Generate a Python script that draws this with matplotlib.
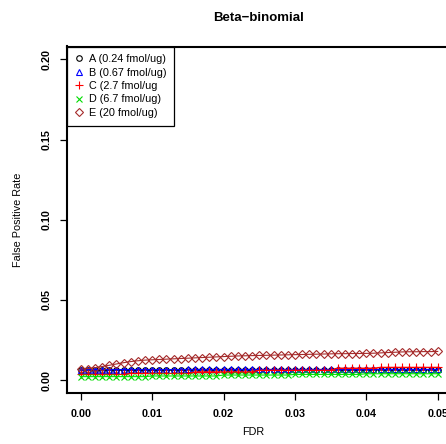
import numpy as np
import matplotlib
matplotlib.use("Agg")
import matplotlib.pyplot as plt
from matplotlib.lines import Line2D

plt.rcParams['font.family'] = ['Liberation Sans', 'DejaVu Sans']

# FDR grid
fdr = np.round(np.arange(51) * 0.001, 3)

# false positive rates
fpr_A = [0.0062, 0.0062, 0.0062, 0.0062, 0.0062, 0.0062, 0.0062, 0.0062, 0.0062, 0.0062,
         0.0062, 0.0062, 0.0062, 0.0062, 0.0062, 0.0063, 0.0063, 0.0063, 0.0063, 0.0063,
         0.0063, 0.0063, 0.0063, 0.0063, 0.0063, 0.0063, 0.0063, 0.0063, 0.0063, 0.0063,
         0.0063, 0.0063, 0.0063, 0.0063, 0.0063, 0.0063, 0.0063, 0.0063, 0.0063, 0.0063,
         0.0063, 0.0063, 0.0063, 0.0063, 0.0063, 0.0063, 0.0063, 0.0063, 0.0063, 0.0063, 0.0063]
fpr_B = [0.0066, 0.0066, 0.0066, 0.0066, 0.0066, 0.0066, 0.0066, 0.0066, 0.0066, 0.0066,
         0.0066, 0.0066, 0.0066, 0.0066, 0.0066, 0.0067, 0.0067, 0.0067, 0.0067, 0.0067,
         0.0067, 0.0067, 0.0067, 0.0067, 0.0067, 0.0067, 0.0067, 0.0067, 0.0067, 0.0067,
         0.0067, 0.0067, 0.0067, 0.0067, 0.0067, 0.0067, 0.0067, 0.0067, 0.0067, 0.0067,
         0.0067, 0.0067, 0.0067, 0.0067, 0.0067, 0.0067, 0.0067, 0.0067, 0.0067, 0.0067, 0.0067]
fpr_C = [0.0036, 0.0036, 0.0036, 0.0036, 0.0036, 0.0036, 0.0036, 0.0042, 0.0042, 0.0042,
         0.0042, 0.0042, 0.0042, 0.0042, 0.0042, 0.0042, 0.0052, 0.0052, 0.0052, 0.0052,
         0.0052, 0.0052, 0.0052, 0.0052, 0.0052, 0.0062, 0.0062, 0.0062, 0.0062, 0.0062,
         0.0062, 0.0062, 0.0062, 0.0062, 0.0062, 0.0062, 0.0075, 0.0075, 0.0075, 0.0075,
         0.0075, 0.0075, 0.0080, 0.0080, 0.0080, 0.0080, 0.0080, 0.0080, 0.0080, 0.0080, 0.0080]
fpr_D = [0.0022, 0.0022, 0.0022, 0.0022, 0.0022, 0.0022, 0.0022, 0.0022, 0.0022, 0.0022,
         0.0026, 0.0026, 0.0026, 0.0026, 0.0026, 0.0026, 0.0026, 0.0026, 0.0026, 0.0026,
         0.0032, 0.0032, 0.0032, 0.0032, 0.0032, 0.0032, 0.0032, 0.0032, 0.0032, 0.0032,
         0.0036, 0.0036, 0.0036, 0.0036, 0.0036, 0.0036, 0.0036, 0.0036, 0.0036, 0.0036,
         0.0040, 0.0040, 0.0040, 0.0040, 0.0040, 0.0040, 0.0040, 0.0040, 0.0040, 0.0040, 0.0040]
fpr_E = [0.0069, 0.0072, 0.0078, 0.0085, 0.0093, 0.0101, 0.0109, 0.0116, 0.0121, 0.0125,
         0.0127, 0.0129, 0.0131, 0.0133, 0.0135, 0.0137, 0.0139, 0.0141, 0.0143, 0.0145,
         0.0147, 0.0149, 0.0151, 0.0152, 0.0153, 0.0154, 0.0155, 0.0156, 0.0157, 0.0158,
         0.0159, 0.0160, 0.0161, 0.0162, 0.0163, 0.0164, 0.0165, 0.0165, 0.0166, 0.0166,
         0.0167, 0.0168, 0.0170, 0.0172, 0.0174, 0.0176, 0.0177, 0.0177, 0.0178, 0.0178, 0.0179]

labels = ["A (0.24 fmol/ug)", "B (0.67 fmol/ug)", "C (2.7 fmol/ug",
          "D (6.7 fmol/ug)", "E (20 fmol/ug)"]
colors = ["black", "blue", "red", "#00dd00", "#a52a2a"]
markers = ["o", "^", "+", "x", "D"]
msizes = [4.0, 5.0, 6.0, 5.0, 4.5]
series = [fpr_A, fpr_B, fpr_C, fpr_D, fpr_E]

fig = plt.figure(figsize=(4.46, 4.44), dpi=100)
W, H = 446, 444
ax = fig.add_axes([66.5 / W, 1 - 393 / H, (452 - 66.5) / W, (393 - 46.5) / H])

for y, c, m, s in zip(series, colors, markers, msizes):
    ax.plot(fdr, y, color=c, marker=m, markersize=s, markerfacecolor='none',
            markeredgewidth=0.8, linewidth=0.8)

ax.set_xlim(-0.002, 0.052)
ax.set_ylim(-0.008, 0.208)
ax.set_xticks([0, 0.01, 0.02, 0.03, 0.04, 0.05])
ax.set_yticks([0, 0.05, 0.10, 0.15, 0.20])
ax.set_xticklabels(["0.00", "0.01", "0.02", "0.03", "0.04", "0.05"])
ax.set_yticklabels(["0.00", "0.05", "0.10", "0.15", "0.20"], rotation=90, va='center')
for sp in ax.spines.values():
    sp.set_linewidth(1.5)
ax.tick_params(direction='out', length=5, width=0.9, labelsize=7.8)
ax.tick_params(axis='x', pad=6.5)
ax.tick_params(axis='y', pad=5.5)
for t in ax.get_xticklabels() + ax.get_yticklabels():
    t.set_fontweight('bold')

handles = [Line2D([], [], color=c, marker=m, markersize=s, markerfacecolor='none',
                  markeredgewidth=0.8, linestyle='none')
           for c, m, s in zip(colors, markers, msizes)]
leg = ax.legend(handles, labels, loc='upper left', borderaxespad=0, fontsize=7.8,
                fancybox=False, edgecolor='black', framealpha=1, handlelength=0.9,
                handletextpad=0.45, labelspacing=0.32, borderpad=0.7)
leg.get_frame().set_linewidth(0.9)

fig.text(259 / W, 1 - 18 / H, "Beta\u2212binomial", ha='center', va='center',
         fontsize=9.5, fontweight='bold')
fig.text(18 / W, 1 - 220 / H, "False Positive Rate", ha='center', va='center',
         rotation=90, fontsize=7.8)
fig.text(253 / W, 1 - 432 / H, "FDR", ha='center', va='center', fontsize=7.8)

fig.savefig("out.png", dpi=100)
